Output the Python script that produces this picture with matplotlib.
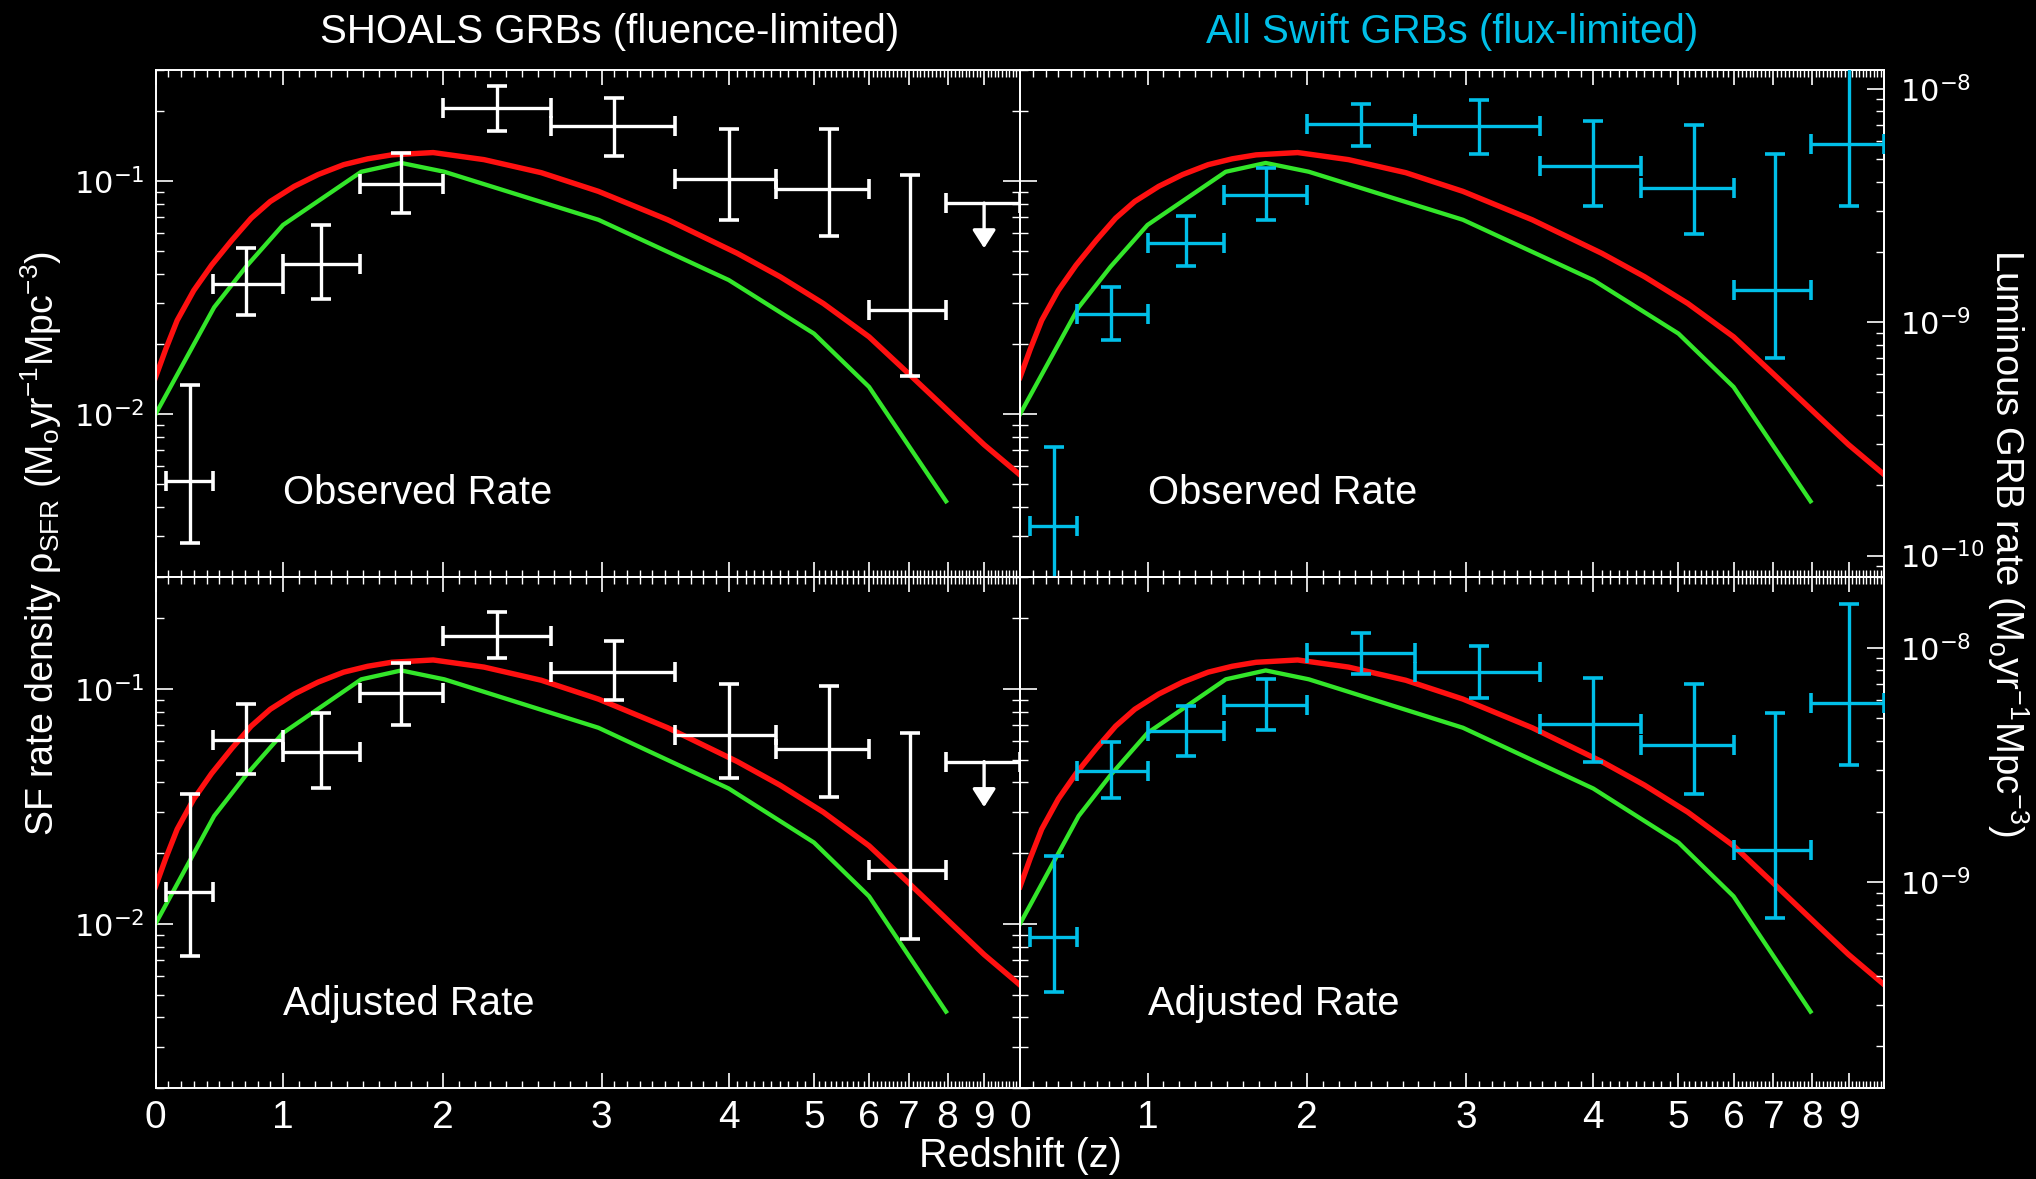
import matplotlib
matplotlib.use("Agg")
import matplotlib.pyplot as plt
import numpy as np
from matplotlib.ticker import FixedLocator, FuncFormatter, LogLocator, NullFormatter

plt.rcParams["font.family"] = ["Liberation Sans", "DejaVu Sans"]

# ---------------------------------------------------------------------------
# Redshift axis: stretched scale, integer z -> position along the panel
# ---------------------------------------------------------------------------
Z_KNOTS = [0, 1, 2, 3, 4, 5, 6, 7, 8, 9, 10]
KNOT_POS = np.array([0, 127.5, 287.2, 446.1, 573.2, 658.4, 713.5, 753.3, 792.0, 828.5, 864.2])
KNOT_FRAC = KNOT_POS / KNOT_POS[-1]
Z_MINOR = [k / 10 for k in range(1, 100) if k % 10]


def z_to_frac(z):
    return np.interp(z, Z_KNOTS, KNOT_FRAC)


def frac_to_z(f):
    return np.interp(f, KNOT_FRAC, Z_KNOTS)


# ---------------------------------------------------------------------------
# Model star-formation histories (left axis, Msun/yr/Mpc^3)
# ---------------------------------------------------------------------------
RED_Z = [0.0, 0.08, 0.17, 0.30, 0.44, 0.60, 0.75, 0.90, 1.07, 1.22, 1.38, 1.53, 1.68,
         1.94, 2.26, 2.62, 2.98, 3.52, 4.10, 4.60, 5.17, 6.00, 7.00, 8.20, 9.00, 10.0]
RED_SFR = [0.0144, 0.0190, 0.0253, 0.0340, 0.0437, 0.0560, 0.0695, 0.0820, 0.0952,
           0.107, 0.118, 0.125, 0.130, 0.133, 0.124, 0.109, 0.0906, 0.0684, 0.0491,
           0.0390, 0.0299, 0.0215, 0.0149, 0.0097, 0.0074, 0.0055]

GREEN_Z = [0.0, 0.46, 0.71, 1.0, 1.49, 1.74, 2.01, 2.98, 4.0, 5.0, 6.0, 7.96]
GREEN_SFR = [0.010, 0.0288, 0.043, 0.065, 0.110, 0.120, 0.110, 0.0684, 0.0377,
             0.0222, 0.0131, 0.00423]

# ---------------------------------------------------------------------------
# Redshift bins (shared by both samples)
# ---------------------------------------------------------------------------
BIN_Z = [0.27, 0.71, 1.24, 1.74, 2.34, 3.10, 4.00, 5.28, 7.03, 9.00]
BIN_LO = [0.08, 0.45, 1.00, 1.48, 2.00, 2.68, 3.58, 4.56, 6.00, 7.96]
BIN_HI = [0.45, 1.00, 1.48, 2.00, 2.68, 3.58, 4.56, 6.00, 7.96, 10.0]

# SHOALS (first nine bins measured, last bin an upper limit)
SHOALS_OBS = [0.00516, 0.0364, 0.0444, 0.0974, 0.207, 0.173, 0.1026, 0.0927, 0.0279]
SHOALS_OBS_HI = [0.0133, 0.0516, 0.065, 0.133, 0.257, 0.227, 0.168, 0.168, 0.107]
SHOALS_OBS_LO = [0.00279, 0.0266, 0.0313, 0.0735, 0.164, 0.129, 0.0684, 0.058, 0.0146]
SHOALS_OBS_LIMIT = 0.0807

SHOALS_ADJ = [0.01365, 0.0607, 0.054, 0.0958, 0.169, 0.118, 0.0637, 0.0557, 0.0169]
SHOALS_ADJ_HI = [0.0356, 0.0861, 0.0791, 0.129, 0.212, 0.1596, 0.105, 0.1035, 0.0647]
SHOALS_ADJ_LO = [0.00728, 0.0435, 0.038, 0.0705, 0.135, 0.0895, 0.042, 0.0347, 0.0086]
SHOALS_ADJ_LIMIT = 0.0491

# All Swift GRBs (right axis)
SWIFT_OBS = [1.34e-10, 1.08e-9, 2.19e-9, 3.50e-9, 7.1e-9, 6.93e-9, 4.65e-9, 3.75e-9, 1.37e-9, 5.8e-9]
SWIFT_OBS_HI = [2.92e-10, 1.42e-9, 2.84e-9, 4.57e-9, 8.6e-9, 8.96e-9, 7.29e-9, 6.98e-9, 5.26e-9, 1.54e-8]
SWIFT_OBS_LO = [4.0e-11, 8.36e-10, 1.74e-9, 2.73e-9, 5.68e-9, 5.23e-9, 3.15e-9, 2.39e-9, 7.06e-10, 3.15e-9]

SWIFT_ADJ = [5.85e-10, 2.98e-9, 4.40e-9, 5.71e-9, 9.48e-9, 7.88e-9, 4.75e-9, 3.83e-9, 1.37e-9, 5.83e-9]
SWIFT_ADJ_HI = [1.30e-9, 3.95e-9, 5.65e-9, 7.33e-9, 1.16e-8, 1.02e-8, 7.45e-9, 6.98e-9, 5.28e-9, 1.54e-8]
SWIFT_ADJ_LO = [3.40e-10, 2.28e-9, 3.46e-9, 4.48e-9, 7.7e-9, 6.1e-9, 3.27e-9, 2.37e-9, 7.05e-10, 3.16e-9]

LEFT_YLIM = (0.002, 0.30)
RIGHT_YLIM_TOP = (8.1e-11, 1.2e-8)
RIGHT_YLIM_BOTTOM = (1.33e-10, 2.0e-8)

RED = "#ff1010"
GREEN = "#33e62a"
CYAN = "#00bfe8"
WHITE = "white"
LIMIT_DROP = 0.64   # arrow length of the upper limit, as a factor in y

W, H = 2036, 1179


def style_ticks(ax, labelbottom):
    for sp in ax.spines.values():
        sp.set_color(WHITE)
        sp.set_linewidth(1.4)
    ax.set_facecolor("black")
    ax.set_xscale("function", functions=(z_to_frac, frac_to_z))
    ax.set_xlim(0, 10)
    ax.xaxis.set_major_locator(FixedLocator(Z_KNOTS))
    ax.xaxis.set_minor_locator(FixedLocator(Z_MINOR))
    ax.xaxis.set_major_formatter(FuncFormatter(lambda v, _: f"{v:.0f}" if v < 9.5 else ""))
    ax.xaxis.set_minor_formatter(NullFormatter())
    ax.tick_params(axis="x", which="both", direction="in", colors=WHITE,
                   top=True, bottom=True, labeltop=False, labelbottom=labelbottom)
    ax.tick_params(axis="x", which="major", length=11, width=1.2, labelsize=28, pad=9)
    ax.tick_params(axis="x", which="minor", length=5, width=1.0)


def style_log_y(axis_ax, pad):
    axis_ax.set_yscale("log")
    axis_ax.yaxis.set_major_locator(LogLocator(base=10))
    axis_ax.yaxis.set_minor_locator(LogLocator(base=10, subs=np.arange(2, 10)))
    axis_ax.yaxis.set_minor_formatter(NullFormatter())
    axis_ax.tick_params(axis="y", which="both", direction="in", colors=WHITE)
    axis_ax.tick_params(axis="y", which="major", length=12, width=1.2, labelsize=22,
                        labelfontfamily="DejaVu Sans", pad=pad)
    axis_ax.tick_params(axis="y", which="minor", length=6, width=1.0)


def draw_models(ax):
    ax.plot(RED_Z, RED_SFR, color=RED, lw=3.9, solid_joinstyle="round", zorder=2)
    ax.plot(GREEN_Z, GREEN_SFR, color=GREEN, lw=3.1, solid_joinstyle="round", zorder=2)


def draw_bins(ax, n, cen, hi, lo, color):
    z = np.array(BIN_Z[:n])
    cen = np.array(cen)
    xerr = [z - np.array(BIN_LO[:n]), np.array(BIN_HI[:n]) - z]
    yerr = [cen - np.array(lo), np.array(hi) - cen]
    ax.errorbar(z, cen, xerr=xerr, yerr=yerr, fmt="none", ecolor=color,
                elinewidth=2.4, capsize=7.5, capthick=2.6, zorder=3)


def draw_limit(ax, value):
    z = BIN_Z[-1]
    ax.errorbar([z], [value], xerr=[[z - BIN_LO[-1]], [BIN_HI[-1] - z]], fmt="none",
                ecolor=WHITE, elinewidth=2.4, capsize=7.5, capthick=2.6, zorder=3,
                clip_on=False)
    ax.annotate("", xy=(z, value * LIMIT_DROP), xytext=(z, value),
                arrowprops=dict(arrowstyle="-|>,head_width=0.32,head_length=0.5",
                                mutation_scale=22, color=WHITE, lw=2.4,
                                shrinkA=0, shrinkB=0), zorder=3)


fig = plt.figure(figsize=(W / 100, H / 100), dpi=100, facecolor="black")

x_left = 155.5 / W
x_right = 1020 / W
panel_w = 864.3 / W
y_top = 1 - 577 / H
y_bot = 1 - 1088 / H
h_top = 506.7 / H
h_bot = 511 / H

panels = {
    "tl": fig.add_axes([x_left, y_top, panel_w, h_top]),
    "tr": fig.add_axes([x_right, y_top, panel_w, h_top]),
    "bl": fig.add_axes([x_left, y_bot, panel_w, h_bot]),
    "br": fig.add_axes([x_right, y_bot, panel_w, h_bot]),
}

# SHOALS panels (left)
for key, cen, hi, lo, lim, label in [
    ("tl", SHOALS_OBS, SHOALS_OBS_HI, SHOALS_OBS_LO, SHOALS_OBS_LIMIT, "Observed Rate"),
    ("bl", SHOALS_ADJ, SHOALS_ADJ_HI, SHOALS_ADJ_LO, SHOALS_ADJ_LIMIT, "Adjusted Rate"),
]:
    ax = panels[key]
    style_ticks(ax, labelbottom=(key == "bl"))
    style_log_y(ax, 8)
    ax.set_ylim(*LEFT_YLIM)
    ax.tick_params(axis="y", which="both", left=True, right=True, labelright=False)
    draw_models(ax)
    draw_bins(ax, 9, cen, hi, lo, WHITE)
    draw_limit(ax, lim)
    ax.text(0.1475, 0.165, label, transform=ax.transAxes, color=WHITE,
            fontsize=28.8, ha="left", va="center")

# Swift panels (right, with their own GRB-rate axis)
for key, cen, hi, lo, ylim, label in [
    ("tr", SWIFT_OBS, SWIFT_OBS_HI, SWIFT_OBS_LO, RIGHT_YLIM_TOP, "Observed Rate"),
    ("br", SWIFT_ADJ, SWIFT_ADJ_HI, SWIFT_ADJ_LO, RIGHT_YLIM_BOTTOM, "Adjusted Rate"),
]:
    ax = panels[key]
    style_ticks(ax, labelbottom=(key == "br"))
    style_log_y(ax, 8)
    ax.set_ylim(*LEFT_YLIM)
    draw_models(ax)
    twin = ax.twinx()
    for sp in twin.spines.values():
        sp.set_color(WHITE)
        sp.set_linewidth(1.4)
    style_log_y(twin, 11)
    twin.set_ylim(*ylim)
    ax.tick_params(axis="y", which="both", left=True, right=False, labelleft=False)
    twin.tick_params(axis="y", which="both", left=False, right=True,
                     labelleft=False, labelright=True)
    draw_bins(twin, 10, cen, hi, lo, CYAN)
    ax.text(0.148, 0.165, label, transform=ax.transAxes, color=WHITE,
            fontsize=28.8, ha="left", va="center")

fig.text(609.6 / W, 1 - 32 / H, "SHOALS GRBs (fluence-limited)", color=WHITE,
         fontsize=29, ha="center", va="center")
fig.text(1452 / W, 1 - 32 / H, "All Swift GRBs (flux-limited)", color=CYAN,
         fontsize=29, ha="center", va="center")
fig.text(1020 / W, 1 - 1156 / H, "Redshift (z)", color=WHITE, fontsize=28.6,
         ha="center", va="center")
fig.text(41 / W, 1 - 543 / H,
         r"SF rate density ρ$_{\mathregular{SFR}}$ (M$_{\mathregular{o}}$yr$^{\mathregular{-1}}$Mpc$^{\mathregular{-3}}$)",
         color=WHITE, fontsize=27, rotation=90, ha="center", va="center")
fig.text(2008 / W, 1 - 543 / H,
         r"Luminous GRB rate (M$_{\mathregular{o}}$yr$^{\mathregular{-1}}$Mpc$^{\mathregular{-3}}$)",
         color=WHITE, fontsize=27.5, rotation=270, ha="center", va="center")

fig.savefig("out.png", dpi=100, facecolor="black")
